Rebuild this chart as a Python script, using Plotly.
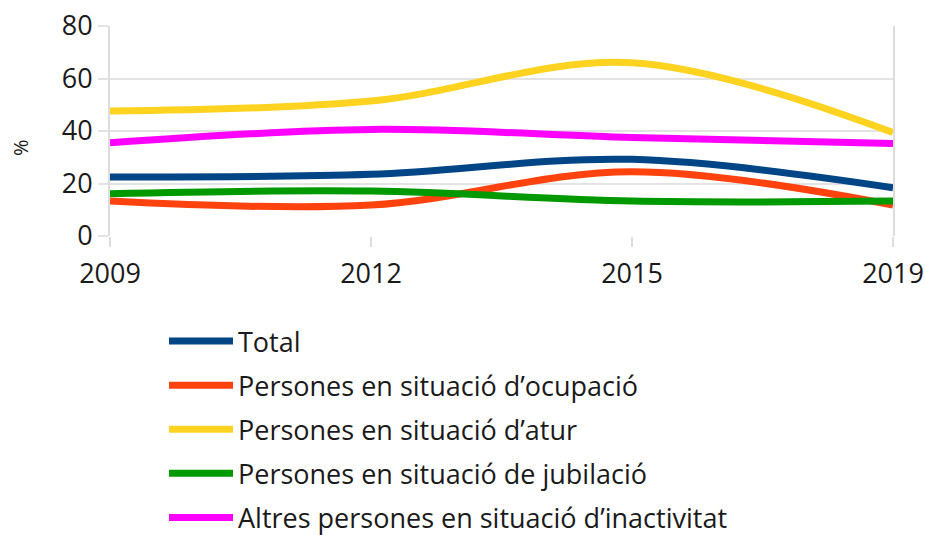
import plotly.graph_objects as go

years = ["2009", "2012", "2015", "2019"]
series_names = [
    "Total",
    "Persones en situació d’ocupació",
    "Persones en situació d’atur",
    "Persones en situació de jubilació",
    "Altres persones en situació d’inactivitat",
]
total = [22.5, 23.5, 29.2, 18.4]
ocupacio = [13.3, 11.8, 24.5, 11.8]
atur = [47.6, 51.4, 66.0, 39.4]
jubilacio = [16.1, 17.1, 13.3, 13.3]
inactivitat = [35.5, 40.6, 37.5, 35.2]
colors = ["#004586", "#ff420e", "#ffd320", "#009a00", "#ff00ff"]
y_ticks = [0, 20, 40, 60, 80]

values = [total, ocupacio, atur, jubilacio, inactivitat]

fig = go.Figure()
for name, vals, col in zip(series_names, values, colors):
    fig.add_trace(go.Scatter(
        x=years, y=vals, name=name, mode="lines",
        line=dict(color=col, width=7, shape="spline", smoothing=1.0),
        legendgroup=name,
    ))

W, H = 925, 535
font = "Open Sans, Noto Sans, sans-serif"
fig.update_layout(
    width=W, height=H,
    margin=dict(l=110, r=32, t=26, b=H - 236, autoexpand=False),
    paper_bgcolor="white", plot_bgcolor="white",
    font=dict(family=font, size=27, color="#1a1a1a"),
    showlegend=True,
    legend=dict(
        orientation="v", xref="container", yref="container",
        x=164 / W, xanchor="left", y=1 - 317 / H, yanchor="top",
        font=dict(size=27, color="#1a1a1a"), tracegroupgap=6,
        itemwidth=64, bgcolor="rgba(0,0,0,0)",
    ),
    xaxis=dict(
        type="category", range=[0, 3], showgrid=False, automargin=False,
        ticks="outside", ticklen=10, tickcolor="#dddddd", tickwidth=2,
        tickfont=dict(size=27), zeroline=False, showline=False,
        ticklabelstandoff=4, ticklabeloverflow="allow",
    ),
    yaxis=dict(
        range=[0, 80], tickvals=y_ticks, showgrid=True, gridcolor="#e3e3e3", gridwidth=2,
        ticks="outside", ticklen=10, tickcolor="#e3e3e3", tickwidth=2,
        showline=True, linecolor="#dddddd", linewidth=2, mirror=True,
        zeroline=False, tickfont=dict(size=27), automargin=False,
        ticklabeloverflow="allow",
    ),
    annotations=[dict(
        text="%", xref="paper", yref="paper", x=(20 - 110) / 783, y=(236 - 148) / 210,
        showarrow=False, textangle=-90, font=dict(size=20, color="#1a1a1a"),
        xanchor="center", yanchor="middle",
    )],
)
fig.write_html(
    "out.html",
    config={"displayModeBar": False},
    post_script="document.body.style.margin='0';document.body.style.overflow='hidden';",
)
